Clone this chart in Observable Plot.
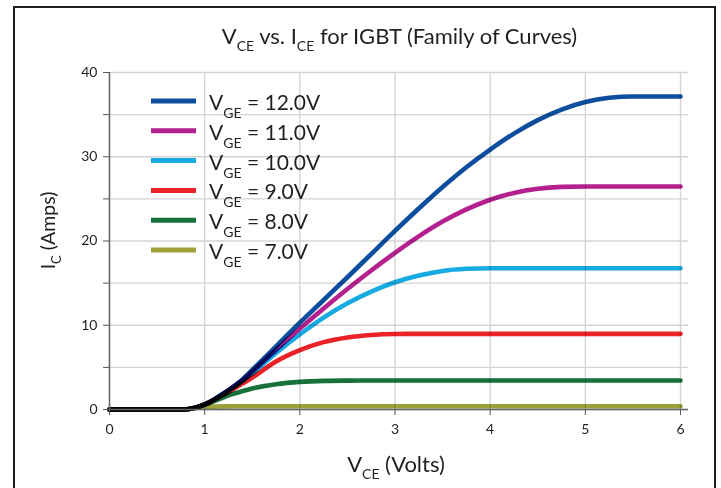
<!DOCTYPE html>
<html>
<head>
<meta charset="utf-8">
<script src="https://cdn.jsdelivr.net/npm/d3@7"></script>
<script src="https://cdn.jsdelivr.net/npm/@observablehq/plot@0.6"></script>
<style>
  html, body { margin: 0; padding: 0; background: #fff; overflow: hidden; }
  #wrap { position: relative; width: 721px; height: 488px; }
  #frame { position: absolute; left: 13px; top: 6px; width: 699px; height: 520px; border: 2.5px solid #1e1e1e; }
  #chart { position: absolute; left: 0; top: 0; }
  #chart svg g[aria-label="line"] path { mix-blend-mode: multiply; }
</style>
</head>
<body>
<div id="wrap">
  <div id="frame"></div>
  <div id="chart"></div>
</div>
<script>
// ---- data ----
const vce = [0, 0.5, 0.78, 0.9, 1.0, 1.1, 1.2, 1.3, 1.4, 1.5, 1.75, 2.0, 2.25, 2.5, 2.75, 3.0, 3.25, 3.5, 3.75, 4.0, 4.25, 4.5, 4.75, 5.0, 5.25, 5.5, 5.75, 6.0];

const ic12 = [0, 0, 0, 0.2, 0.6, 1.2, 1.9, 2.7, 3.6, 4.7, 7.5, 10.3, 13.0, 15.7, 18.45, 21.2, 23.85, 26.4, 28.75, 30.85, 32.75, 34.35, 35.6, 36.5, 37.0, 37.15, 37.15, 37.15];
const ic11 = [0, 0, 0, 0.2, 0.6, 1.2, 1.9, 2.7, 3.5, 4.5, 7.1, 9.6, 12.0, 14.3, 16.5, 18.6, 20.55, 22.3, 23.75, 24.9, 25.7, 26.2, 26.42, 26.47, 26.47, 26.47, 26.47, 26.47];
const ic10 = [0, 0, 0, 0.2, 0.6, 1.2, 1.9, 2.6, 3.4, 4.3, 6.7, 8.9, 10.9, 12.6, 14.0, 15.1, 15.9, 16.45, 16.7, 16.77, 16.77, 16.77, 16.77, 16.77, 16.77, 16.77, 16.77, 16.77];
const ic9  = [0, 0, 0, 0.2, 0.6, 1.15, 1.75, 2.4, 3.1, 3.8, 5.7, 7.05, 8.0, 8.55, 8.85, 8.97, 8.98, 8.98, 8.98, 8.98, 8.98, 8.98, 8.98, 8.98, 8.98, 8.98, 8.98, 8.98];
const ic8  = [0, 0, 0, 0.2, 0.55, 1.0, 1.45, 1.85, 2.2, 2.5, 3.0, 3.28, 3.4, 3.43, 3.44, 3.44, 3.44, 3.44, 3.44, 3.44, 3.44, 3.44, 3.44, 3.44, 3.44, 3.44, 3.44, 3.44];
const ic7  = [0, 0, 0, 0.15, 0.28, 0.34, 0.37, 0.38, 0.38, 0.38, 0.38, 0.38, 0.38, 0.38, 0.38, 0.38, 0.38, 0.38, 0.38, 0.38, 0.38, 0.38, 0.38, 0.38, 0.38, 0.38, 0.38, 0.38];

const seriesNames = ["12.0V", "11.0V", "10.0V", "9.0V", "8.0V", "7.0V"];
const seriesValues = [ic12, ic11, ic10, ic9, ic8, ic7];
const seriesColors = ["#0d4f9e", "#b4218f", "#17abe1", "#ec2229", "#16713b", "#9ea03a"];

const xTicks = [0, 1, 2, 3, 4, 5, 6];
const yTicks = [0, 5, 10, 15, 20, 25, 30, 35, 40];
const yLabelTicks = [0, 10, 20, 30, 40];

const FONT = "Lato, 'Open Sans', sans-serif";
const INK = "#231f20";

// ---- build table ----
const rows = [];
seriesNames.forEach((name, i) => {
  vce.forEach((v, j) => rows.push({series: name, vce: v, ic: seriesValues[i][j]}));
});

const chart = Plot.plot({
  width: 721,
  height: 488,
  marginLeft: 109,
  marginRight: 33,
  marginTop: 72,
  marginBottom: 79,
  style: {fontFamily: FONT, background: "transparent", color: INK},
  x: {domain: [0, 6.084], label: null},
  y: {domain: [0, 40], label: null},
  color: {domain: seriesNames, range: seriesColors},
  marks: [
    Plot.gridY(yTicks, {stroke: "#d4d4d4", strokeOpacity: 1, strokeWidth: 1.4}),
    Plot.gridX(xTicks, {stroke: "#d4d4d4", strokeOpacity: 1, strokeWidth: 1.4}),
    Plot.line(rows, {x: "vce", y: "ic", z: "series", stroke: "series", strokeWidth: 4.6, curve: "monotone-x", mixBlendMode: "multiply"}),
    Plot.ruleX([0], {stroke: "#666", strokeWidth: 1.5}),
    Plot.ruleY([0], {stroke: "#666", strokeWidth: 1.5}),
    Plot.axisY(yTicks, {tickSize: 6, tickPadding: 6, stroke: "#555", fontSize: 14, fill: INK, tickFormat: d => yLabelTicks.includes(d) ? String(d) : "", label: null}),
    Plot.axisX(xTicks, {tickSize: 6, tickPadding: 9, stroke: "#555", fontSize: 14, fill: INK, tickFormat: d => String(d), label: null})
  ]
});
document.getElementById("chart").appendChild(chart);

// ---- titles and legend (real text with subscripts) ----
const svg = d3.select(chart);
function richText(parent, parts, size, subSize, subShift) {
  const t = parent.append("text").attr("font-family", FONT).attr("font-size", size).attr("fill", INK);
  let down = false;
  parts.forEach(p => {
    const isSub = typeof p === "object";
    const s = isSub ? p.sub : p;
    const ts = t.append("tspan").text(s);
    if (isSub) { ts.attr("font-size", subSize).attr("dy", subShift); down = true; }
    else if (down) { ts.attr("dy", -subShift); down = false; }
  });
  return t;
}

richText(svg, ["V", {sub: "CE"}, " vs. I", {sub: "CE"}, " for IGBT (Family of Curves)"], 22, 14, 7)
  .attr("x", 399.5).attr("y", 43.5).attr("text-anchor", "middle");

richText(svg, ["V", {sub: "CE"}, " (Volts)"], 22, 14, 7)
  .attr("x", 396).attr("y", 471.5).attr("text-anchor", "middle");

richText(svg, ["I", {sub: "C"}, " (Amps)"], 19.5, 13, 6)
  .attr("text-anchor", "middle")
  .attr("transform", "translate(55,230.5) rotate(-90)");

const leg = svg.append("g");
seriesNames.forEach((name, i) => {
  const cy = 101 + i * 29.8;
  leg.append("line").attr("x1", 151).attr("x2", 196).attr("y1", cy).attr("y2", cy)
    .attr("stroke", seriesColors[i]).attr("stroke-width", 5);
  richText(leg, ["V", {sub: "GE"}, " = " + name], 21, 14, 8)
    .attr("x", 209).attr("y", cy + 9).attr("text-anchor", "start");
});
</script>
</body>
</html>
